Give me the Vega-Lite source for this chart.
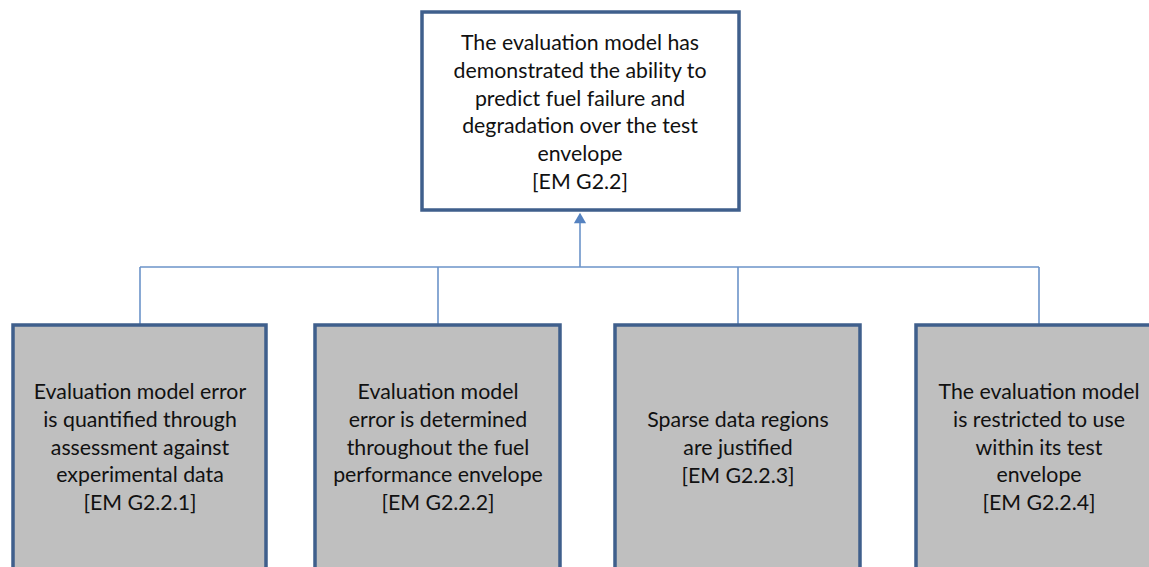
{
  "$schema": "https://vega.github.io/schema/vega-lite/v6.json",
  "width": 1149,
  "height": 567,
  "autosize": {"type": "fit", "contains": "padding"},
  "padding": 0,
  "background": "white",
  "config": {"view": {"stroke": null}},
  "datasets": {
    "boxes": [
      {"id": "top", "x1": 422, "x2": 739, "y1": 12, "y2": 210, "fill": "white"},
      {"id": "b1", "x1": 13, "x2": 266, "y1": 325, "y2": 600, "fill": "grey"},
      {"id": "b2", "x1": 315, "x2": 560, "y1": 325, "y2": 600, "fill": "grey"},
      {"id": "b3", "x1": 615, "x2": 860, "y1": 325, "y2": 600, "fill": "grey"},
      {"id": "b4", "x1": 916, "x2": 1170, "y1": 325, "y2": 600, "fill": "grey"}
    ],
    "links": [
      {"x1": 140, "x2": 1039, "y1": 267, "y2": 267},
      {"x1": 140, "x2": 140, "y1": 267, "y2": 325},
      {"x1": 438, "x2": 438, "y1": 267, "y2": 325},
      {"x1": 738, "x2": 738, "y1": 267, "y2": 325},
      {"x1": 1039, "x2": 1039, "y1": 267, "y2": 325},
      {"x1": 580, "x2": 580, "y1": 267, "y2": 220}
    ],
    "arrow": [{"x": 580, "y": 218}],
    "labels": [
      {"x": 580, "y": 44, "text": "The evaluation model has\ndemonstrated the ability to\npredict fuel failure and\ndegradation over the test\nenvelope\n[EM G2.2]"},
      {"x": 140, "y": 393, "text": "Evaluation model error\nis quantified through\nassessment against\nexperimental data\n[EM G2.2.1]"},
      {"x": 438, "y": 393, "text": "Evaluation model\nerror is determined\nthroughout the fuel\nperformance envelope\n[EM G2.2.2]"},
      {"x": 738, "y": 421, "text": "Sparse data regions\nare justified\n[EM G2.2.3]"},
      {"x": 1039, "y": 393, "text": "The evaluation model\nis restricted to use\nwithin its test\nenvelope\n[EM G2.2.4]"}
    ]
  },
  "layer": [
    {
      "data": {"name": "links"},
      "mark": {"type": "rule", "color": "#6b93c9", "strokeWidth": 1.6},
      "encoding": {
        "x": {"field": "x1", "type": "quantitative", "scale": {"domain": [0, 1149]}, "axis": null},
        "x2": {"field": "x2"},
        "y": {"field": "y1", "type": "quantitative", "scale": {"domain": [0, 567], "reverse": true}, "axis": null},
        "y2": {"field": "y2"}
      }
    },
    {
      "data": {"name": "arrow"},
      "mark": {"type": "point", "shape": "triangle-up", "filled": true, "color": "#5582c0", "size": 150, "opacity": 1},
      "encoding": {
        "x": {"field": "x", "type": "quantitative", "scale": {"domain": [0, 1149]}, "axis": null},
        "y": {"field": "y", "type": "quantitative", "scale": {"domain": [0, 567], "reverse": true}, "axis": null}
      }
    },
    {
      "data": {"name": "boxes"},
      "mark": {"type": "rect", "stroke": "#3f5f8c", "strokeWidth": 3.5, "clip": true},
      "encoding": {
        "x": {"field": "x1", "type": "quantitative", "scale": {"domain": [0, 1149]}, "axis": null},
        "x2": {"field": "x2"},
        "y": {"field": "y1", "type": "quantitative", "scale": {"domain": [0, 567], "reverse": true}, "axis": null},
        "y2": {"field": "y2"},
        "fill": {"field": "fill", "type": "nominal", "scale": {"domain": ["white", "grey"], "range": ["#ffffff", "#bfbfbf"]}, "legend": null}
      }
    },
    {
      "data": {"name": "labels"},
      "mark": {"type": "text", "align": "center", "baseline": "middle", "lineBreak": "\n", "lineHeight": 27.8, "font": "Lato", "fontSize": 21.3, "color": "#111111"},
      "encoding": {
        "x": {"field": "x", "type": "quantitative", "scale": {"domain": [0, 1149]}, "axis": null},
        "y": {"field": "y", "type": "quantitative", "scale": {"domain": [0, 567], "reverse": true}, "axis": null},
        "text": {"field": "text", "type": "nominal"}
      }
    }
  ]
}
